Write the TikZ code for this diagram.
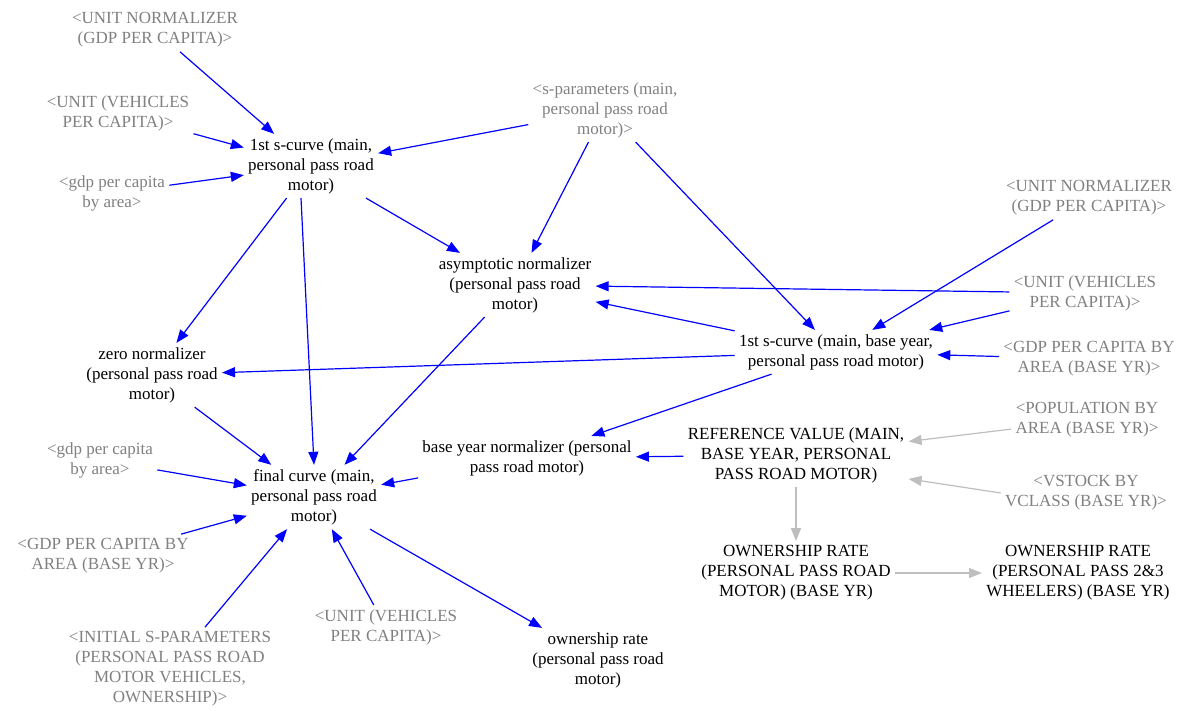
\documentclass[tikz,border=0pt]{standalone}
\usepackage{fontspec}
\setmainfont{Liberation Serif}
\usetikzlibrary{arrows.meta}
\definecolor{shadowgray}{RGB}{128,128,128}
\definecolor{linkgray}{RGB}{190,190,190}

\begin{document}
\begin{tikzpicture}[x=0.5pt,y=-0.5pt,
    var/.style={align=center,font=\fontsize{8.5}{10}\selectfont,inner sep=2pt},
    shadow/.style={var,text=shadowgray},
    link/.style={blue,line width=0.6pt,-{Triangle[length=6.5pt,width=5pt]}},
    greylink/.style={linkgray,line width=0.6pt,-{Triangle[length=6.5pt,width=5pt]}}]
        \useasboundingbox (0,0) rectangle (1189,711);
        % Shadow variables (left)
        \node[shadow] (unitnormA) at (155,30) {<UNIT NORMALIZER\\(GDP PER CAPITA)>};
        \node[shadow] (unitvehA) at (118,113) {<UNIT (VEHICLES\\PER CAPITA)>};
        \node[shadow] (gdpareaA) at (112,193) {<gdp per capita\\by area>};
        \node[shadow] (sparam) at (605,110) {<s-parameters (main,\\personal pass road\\motor)>};
        \node[shadow] (gdpareaC) at (100,460) {<gdp per capita\\by area>};
        \node[shadow] (gdpbaseC) at (103,556) {<GDP PER CAPITA BY\\AREA (BASE YR)>};
        \node[shadow] (initparam) at (170,669) {<INITIAL S-PARAMETERS\\(PERSONAL PASS ROAD\\MOTOR VEHICLES,\\OWNERSHIP)>};
        \node[shadow] (unitvehC) at (386,627) {<UNIT (VEHICLES\\PER CAPITA)>};
        % Shadow variables (right)
        \node[shadow] (unitnormB) at (1089,198) {<UNIT NORMALIZER\\(GDP PER CAPITA)>};
        \node[shadow] (unitvehB) at (1085,293) {<UNIT (VEHICLES\\PER CAPITA)>};
        \node[shadow] (gdpbaseB) at (1089,359) {<GDP PER CAPITA BY\\AREA (BASE YR)>};
        \node[shadow] (popbase) at (1087,420) {<POPULATION BY\\AREA (BASE YR)>};
        \node[shadow] (vstock) at (1086,493) {<VSTOCK BY\\VCLASS (BASE YR)>};
        % Model variables
        \node[var] (scurve) at (311,166) {1st s-curve (main,\\personal pass road\\motor)};
        \node[var] (asymnorm) at (515,285) {asymptotic normalizer\\(personal pass road\\motor)};
        \node[var] (scurvebase) at (836,352) {1st s-curve (main, base year,\\personal pass road motor)};
        \node[var] (zeronorm) at (152,375) {zero normalizer\\(personal pass road\\motor)};
        \node[var] (basenorm) at (527,458) {base year normalizer (personal\\pass road motor)};
        \node[var] (refvalue) at (796,455) {REFERENCE VALUE (MAIN,\\BASE YEAR, PERSONAL\\PASS ROAD MOTOR)};
        \node[var] (finalcurve) at (314,497) {final curve (main,\\personal pass road\\motor)};
        \node[var] (ownrate) at (598,660) {ownership rate\\(personal pass road\\motor)};
        \node[var] (ownroad) at (796,573) {OWNERSHIP RATE\\(PERSONAL PASS ROAD\\MOTOR) (BASE YR)};
        \node[var] (ownwheel) at (1078,573) {OWNERSHIP RATE\\(PERSONAL PASS 2\&3\\WHEELERS) (BASE YR)};
        % Links into 1st s-curve
        \draw[link] (unitnormA) -- (scurve);
        \draw[link] (unitvehA) -- (scurve);
        \draw[link] (gdpareaA) -- (scurve);
        \draw[link] (sparam) -- (scurve);
        % Links out of s-parameters
        \draw[link] (sparam) -- (asymnorm);
        \draw[link] (sparam) -- (scurvebase);
        \draw[link] (scurve) -- (asymnorm);
        \draw[link] (scurve) -- (zeronorm);
        \draw[link] ([xshift=-5pt]scurve.south) -- (finalcurve.north);
        % Base year s-curve
        \draw[link] (unitnormB) -- (scurvebase);
        \draw[link] (unitvehB) -- (asymnorm);
        \draw[link] (unitvehB) -- (scurvebase);
        \draw[link] (gdpbaseB) -- (scurvebase);
        \draw[link] (scurvebase) -- (asymnorm);
        \draw[link] (scurvebase) -- (zeronorm);
        \draw[link] (scurvebase) -- (basenorm);
        \draw[link] (refvalue) -- (basenorm);
        % Links into final curve
        \draw[link] (asymnorm) -- (finalcurve);
        \draw[link] (zeronorm) -- (finalcurve);
        \draw[link] (gdpareaC) -- (finalcurve);
        \draw[link] (basenorm) -- (finalcurve);
        \draw[link] (gdpbaseC) -- (finalcurve);
        \draw[link] (initparam) -- (finalcurve);
        \draw[link] (unitvehC) -- (finalcurve);
        \draw[link] (finalcurve) -- (ownrate);
        % Reference value (grey links)
        \draw[greylink] (popbase) -- (refvalue);
        \draw[greylink] (vstock.west) -- (refvalue.-12);
        \draw[greylink] (refvalue) -- (ownroad);
        \draw[greylink] (ownroad) -- (ownwheel);
    \end{tikzpicture}
\end{document}
